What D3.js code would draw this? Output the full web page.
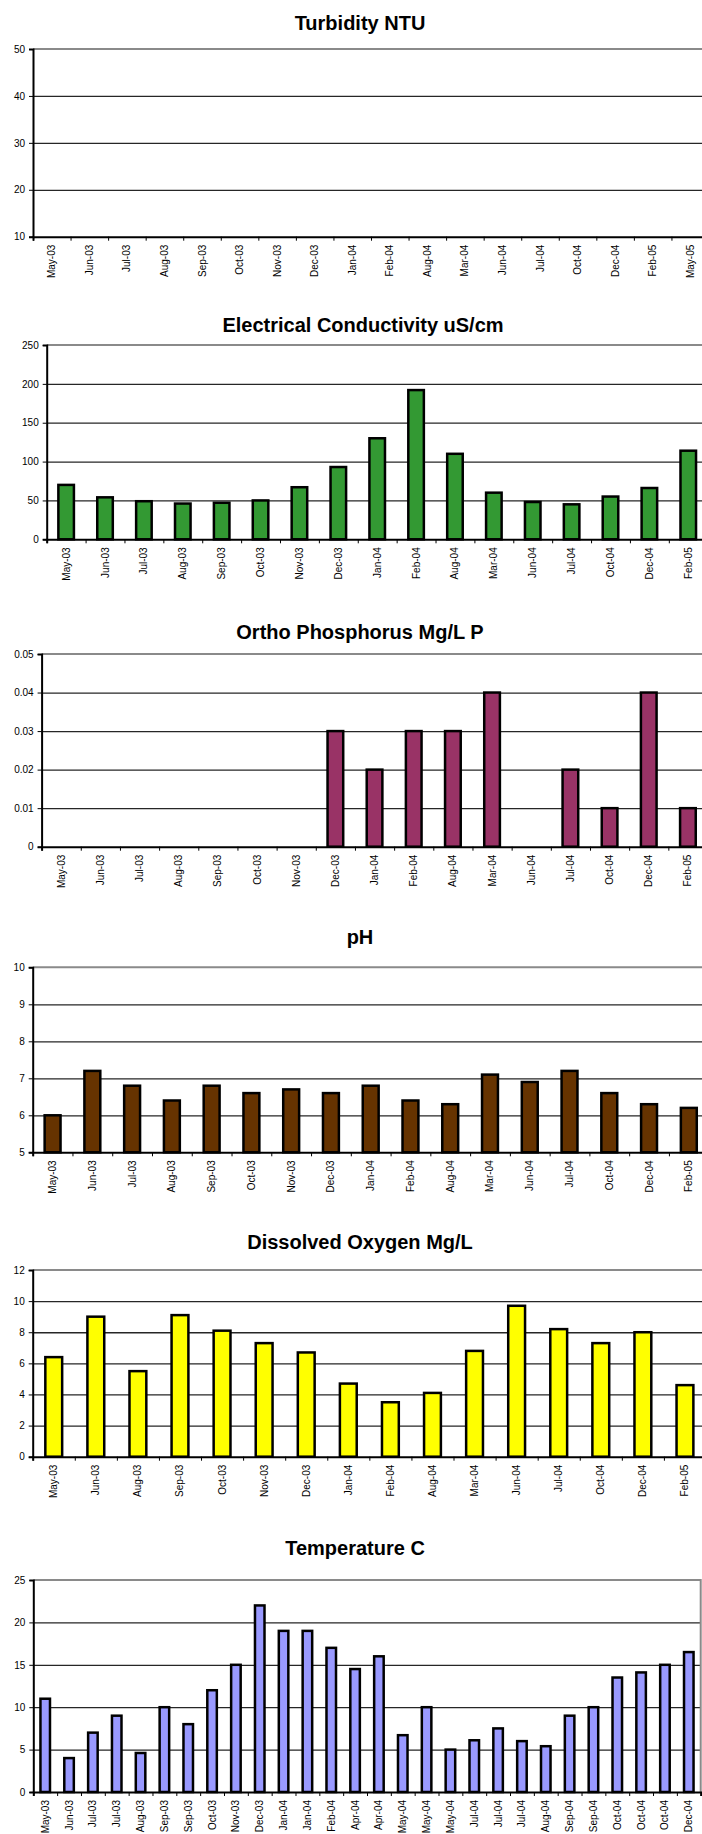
<!DOCTYPE html>
<html><head><meta charset="utf-8">
<script src="https://cdn.jsdelivr.net/npm/d3@7"></script>
<style>
body{margin:0;background:#fff;}
svg{display:block;font-family:"Liberation Sans",Arial,sans-serif;}
</style>
</head><body>
<svg id="c" width="702" height="1834"></svg>
<script>
// ---------- DATA ----------
const turbidityCategories = ["May-03","Jun-03","Jul-03","Aug-03","Sep-03","Oct-03","Nov-03","Dec-03","Jan-04","Feb-04","Aug-04","Mar-04","Jun-04","Jul-04","Oct-04","Dec-04","Feb-05","May-05"];
const turbidityValues = [null,null,null,null,null,null,null,null,null,null,null,null,null,null,null,null,null,null];
const turbidityTicks = [10,20,30,40,50];

const conductivityCategories = ["May-03","Jun-03","Jul-03","Aug-03","Sep-03","Oct-03","Nov-03","Dec-03","Jan-04","Feb-04","Aug-04","Mar-04","Jun-04","Jul-04","Oct-04","Dec-04","Feb-05"];
const conductivityValues = [70,54,49,46,47,50,67,93,130,192,110,60,48,45,55,66,114];
const conductivityTicks = [0,50,100,150,200,250];

const phosphorusCategories = ["May-03","Jun-03","Jul-03","Aug-03","Sep-03","Oct-03","Nov-03","Dec-03","Jan-04","Feb-04","Aug-04","Mar-04","Jun-04","Jul-04","Oct-04","Dec-04","Feb-05"];
const phosphorusValues = [null,null,null,null,null,null,null,0.03,0.02,0.03,0.03,0.04,null,0.02,0.01,0.04,0.01];
const phosphorusTicks = [0,0.01,0.02,0.03,0.04,0.05];

const phCategories = ["May-03","Jun-03","Jul-03","Aug-03","Sep-03","Oct-03","Nov-03","Dec-03","Jan-04","Feb-04","Aug-04","Mar-04","Jun-04","Jul-04","Oct-04","Dec-04","Feb-05"];
const phValues = [6.0,7.2,6.8,6.4,6.8,6.6,6.7,6.6,6.8,6.4,6.3,7.1,6.9,7.2,6.6,6.3,6.2];
const phTicks = [5,6,7,8,9,10];

const oxygenCategories = ["May-03","Jun-03","Aug-03","Sep-03","Oct-03","Nov-03","Dec-03","Jan-04","Feb-04","Aug-04","Mar-04","Jun-04","Jul-04","Oct-04","Dec-04","Feb-05"];
const oxygenValues = [6.4,9.0,5.5,9.1,8.1,7.3,6.7,4.7,3.5,4.1,6.8,9.7,8.2,7.3,8.0,4.6];
const oxygenTicks = [0,2,4,6,8,10,12];

const temperatureCategories = ["May-03","Jun-03","Jul-03","Jul-03","Aug-03","Sep-03","Sep-03","Oct-03","Nov-03","Dec-03","Jan-04","Jan-04","Feb-04","Apr-04","Apr-04","May-04","May-04","May-04","Jul-04","Jul-04","Jul-04","Aug-04","Sep-04","Sep-04","Oct-04","Oct-04","Oct-04","Dec-04"];
const temperatureValues = [11,4,7,9,4.6,10,8,12,15,22,19,19,17,14.5,16,6.7,10,5,6.1,7.5,6,5.4,9,10,13.5,14.1,15,16.5];
const temperatureTicks = [0,5,10,15,20,25];

// ---------- DRAW ----------
const svg = d3.select("#c");
const FONT = '"Liberation Sans",Arial,sans-serif';

function drawChart(o) {
  const g = svg.append("g");
  const n = o.cats.length;
  const x = d3.scaleBand().domain(d3.range(n)).range([o.left, o.right]).paddingInner(0.6).paddingOuter(0.3);
  const xb = d3.scaleLinear().domain([0, n]).range([o.left, o.right]);
  const y = d3.scaleLinear().domain([o.ticks[0], o.ticks[o.ticks.length - 1]]).range([o.bottom, o.top]);

  // title
  g.append("text").attr("x", o.titleX).attr("y", o.titleY).attr("dy", "0.35em")
    .attr("text-anchor", "middle").style("font-family", FONT).style("font-weight", "bold")
    .style("font-size", "20px").attr("fill", "#000").text(o.title);

  // gridlines
  const grid = g.append("g").attr("transform", `translate(${o.left},0)`)
    .call(d3.axisLeft(y).tickValues(o.ticks.slice(1, -1)).tickSize(-(o.right - o.left)).tickFormat(""));
  grid.select(".domain").remove();
  grid.selectAll("line").attr("stroke", "#262626").attr("stroke-width", 1.3);

  // plot border (top + right)
  g.append("path").attr("d", `M${o.left},${y(o.ticks[o.ticks.length-1])}H${o.right}V${o.bottom}`)
    .attr("fill", "none").attr("stroke", "#8a8a8a").attr("stroke-width", 2);

  // bars
  g.append("g").selectAll("rect").data(o.vals.map((v, i) => ({v, i})).filter(d => d.v != null))
    .join("rect")
    .attr("x", d => x(d.i)).attr("width", x.bandwidth())
    .attr("y", d => y(d.v)).attr("height", d => o.bottom - y(d.v))
    .attr("fill", o.fill).attr("stroke", "#000").attr("stroke-width", 2.5);

  // y axis
  const ya = g.append("g").attr("transform", `translate(${o.left},0)`)
    .call(d3.axisLeft(y).tickValues(o.ticks).tickSize(4).tickPadding(4).tickFormat(o.fmt || (d => d)));
  ya.select(".domain").attr("stroke", "#000").attr("stroke-width", 2);
  ya.selectAll("line").attr("stroke", "#000");
  ya.selectAll("text").style("font-family", FONT).style("font-size", "10px").attr("fill", "#000");

  // x axis boundary ticks
  const xt = g.append("g").attr("transform", `translate(0,${o.bottom})`)
    .call(d3.axisBottom(xb).tickValues(d3.range(n + 1)).tickSize(4).tickFormat(""));
  xt.select(".domain").attr("stroke", "#000").attr("stroke-width", 2);
  xt.selectAll("line").attr("stroke", "#000");

  // x labels
  const xl = g.append("g").attr("transform", `translate(0,${o.bottom})`)
    .call(d3.axisBottom(x).tickSize(0).tickFormat(i => o.cats[i]));
  xl.select(".domain").remove();
  xl.selectAll("text").attr("transform", "rotate(-90)").attr("text-anchor", "end")
    .attr("x", -8).attr("y", 0).attr("dy", "0.35em")
    .style("font-family", FONT).style("font-size", "10px").attr("fill", "#000");
}

drawChart({title: "Turbidity NTU", titleX: 360, titleY: 23, cats: turbidityCategories, vals: turbidityValues,
  ticks: turbidityTicks, left: 33, right: 709, top: 49, bottom: 236.7, fill: "#999999"});
drawChart({title: "Electrical Conductivity uS/cm", titleX: 363, titleY: 325, cats: conductivityCategories, vals: conductivityValues,
  ticks: conductivityTicks, left: 46.7, right: 707.7, top: 345, bottom: 539.3, fill: "#339933"});
drawChart({title: "Ortho Phosphorus Mg/L P", titleX: 360, titleY: 631.7, cats: phosphorusCategories, vals: phosphorusValues,
  ticks: phosphorusTicks, fmt: d => d === 0 ? "0" : d3.format(".2f")(d), left: 41.6, right: 707.5, top: 654, bottom: 846.7, fill: "#993366"});
drawChart({title: "pH", titleX: 360, titleY: 937.3, cats: phCategories, vals: phValues,
  ticks: phTicks, left: 32.7, right: 708.7, top: 967.3, bottom: 1152.3, fill: "#663300"});
drawChart({title: "Dissolved Oxygen Mg/L", titleX: 360, titleY: 1241.7, cats: oxygenCategories, vals: oxygenValues,
  ticks: oxygenTicks, left: 32.7, right: 706, top: 1270, bottom: 1456.7, fill: "#ffff00"});
drawChart({title: "Temperature C", titleX: 355, titleY: 1548.3, cats: temperatureCategories, vals: temperatureValues,
  ticks: temperatureTicks, left: 33.3, right: 700.7, top: 1580, bottom: 1792, fill: "#9999ff"});
</script>
</body></html>
